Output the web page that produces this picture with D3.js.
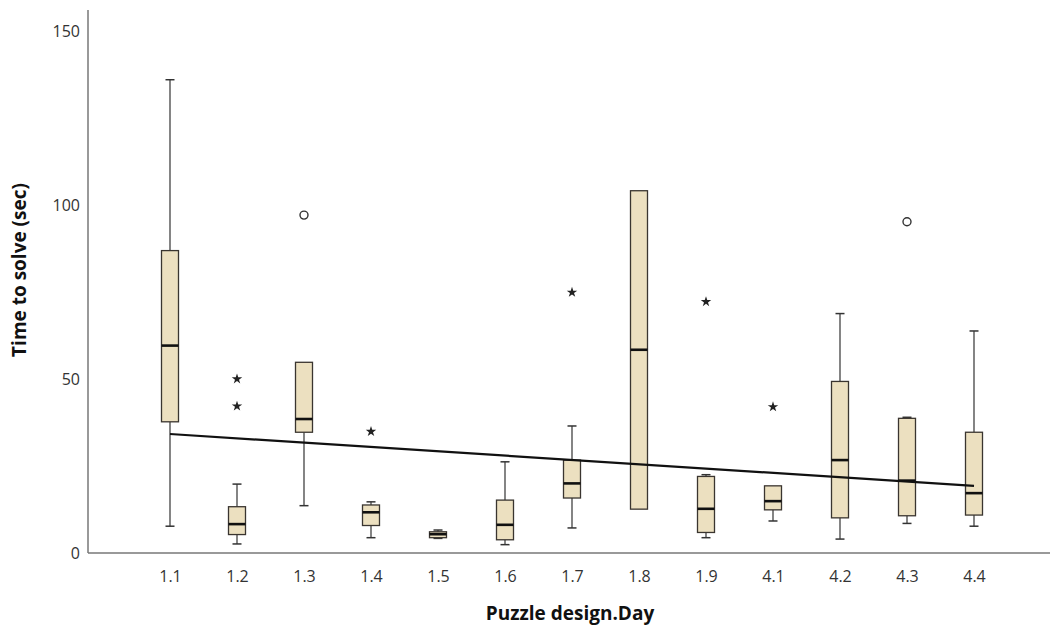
<!DOCTYPE html>
<html lang="en">
<head>
    <meta charset="UTF-8">
    <title>Time to solve by puzzle design and day</title>
    <script src="https://d3js.org/d3.v7.min.js"></script>
    <style>
        body { margin: 0; background: #fff; }
        text { font-family: "Open Sans", "Noto Sans", sans-serif; }
    </style>
</head>
<body>
    <div id="chart"></div>
    <script>
        // values
        var categories  = ["1.1","1.2","1.3","1.4","1.5","1.6","1.7","1.8","1.9","4.1","4.2","4.3","4.4"];
        var whiskerLow  = [7.7, 2.6, 13.6, 4.4, 4.2, 2.4, 7.2, 12.6, 4.4, 9.2, 4.0, 8.5, 7.7];
        var q1          = [37.7, 5.3, 34.7, 7.9, 4.4, 3.8, 15.8, 12.6, 5.9, 12.4, 10.1, 10.7, 10.9];
        var medians     = [59.6, 8.3, 38.5, 11.7, 5.4, 8.1, 20.0, 58.4, 12.7, 14.9, 26.7, 20.8, 17.2];
        var q3          = [86.9, 13.3, 54.8, 13.8, 6.1, 15.2, 26.7, 104.1, 22.0, 19.3, 49.3, 38.7, 34.7];
        var whiskerHigh = [136, 19.8, 54.8, 14.7, 6.6, 26.2, 36.5, 104.1, 22.5, 19.3, 68.8, 39.0, 63.8];
        var outliers    = [["1.3", 97.1], ["4.3", 95.2]];
        var extremes    = [["1.2", 50.0], ["1.2", 42.2], ["1.4", 34.9], ["1.7", 74.9], ["1.9", 72.2], ["4.1", 42.0]];
        var trendCats   = ["1.1", "4.4"];
        var trendValues = [34.2, 19.3];
        var yTicks      = [0, 50, 100, 150];

        var width = 1053, height = 627;
        var svg = d3.select("#chart").append("svg")
            .attr("width", width)
            .attr("height", height);

        var x = d3.scalePoint().domain(categories).range([170, 974]);
        var y = d3.scaleLinear().domain([0, 150]).range([553, 31]);
        var boxW = 17, capW = 9;

        // axes
        var yAxis = d3.axisLeft(y).tickValues(yTicks).tickSize(0).tickPadding(8);
        var gy = svg.append("g").attr("transform", "translate(88,0)").call(yAxis);
        gy.select(".domain").remove();
        gy.selectAll("text").attr("font-size", 16).attr("fill", "#333");

        var xAxis = d3.axisBottom(x).tickSize(0).tickPadding(18);
        var gx = svg.append("g").attr("transform", "translate(0,553)").call(xAxis);
        gx.select(".domain").remove();
        gx.selectAll("text").attr("font-size", 16).attr("fill", "#333");

        svg.append("line").attr("x1", 88).attr("x2", 88).attr("y1", 10).attr("y2", 553)
            .attr("stroke", "#777").attr("stroke-width", 1.5);
        svg.append("line").attr("x1", 88).attr("x2", 1050).attr("y1", 553).attr("y2", 553)
            .attr("stroke", "#777").attr("stroke-width", 1.5);

        // boxes
        var rows = categories.map(function(c, i) {
            return { c: c, lo: whiskerLow[i], q1: q1[i], med: medians[i], q3: q3[i], hi: whiskerHigh[i] };
        });

        var g = svg.append("g");
        var box = g.selectAll(".box").data(rows).enter().append("g").attr("class", "box");

        box.append("line")
            .attr("x1", d => x(d.c)).attr("x2", d => x(d.c))
            .attr("y1", d => y(d.q3)).attr("y2", d => y(d.hi))
            .attr("stroke", "#333").attr("stroke-width", 1.2);
        box.append("line")
            .attr("x1", d => x(d.c)).attr("x2", d => x(d.c))
            .attr("y1", d => y(d.q1)).attr("y2", d => y(d.lo))
            .attr("stroke", "#333").attr("stroke-width", 1.2);
        box.filter(d => d.hi > d.q3).append("line")
            .attr("x1", d => x(d.c) - capW / 2).attr("x2", d => x(d.c) + capW / 2)
            .attr("y1", d => y(d.hi)).attr("y2", d => y(d.hi))
            .attr("stroke", "#333").attr("stroke-width", 1.5);
        box.filter(d => d.lo < d.q1).append("line")
            .attr("x1", d => x(d.c) - capW / 2).attr("x2", d => x(d.c) + capW / 2)
            .attr("y1", d => y(d.lo)).attr("y2", d => y(d.lo))
            .attr("stroke", "#333").attr("stroke-width", 1.5);
        box.append("rect")
            .attr("x", d => x(d.c) - boxW / 2)
            .attr("y", d => y(d.q3))
            .attr("width", boxW)
            .attr("height", d => Math.max(1, y(d.q1) - y(d.q3)))
            .attr("fill", "#ece0c0")
            .attr("stroke", "#3a3530").attr("stroke-width", 1.3);
        box.append("line")
            .attr("x1", d => x(d.c) - boxW / 2).attr("x2", d => x(d.c) + boxW / 2)
            .attr("y1", d => y(d.med)).attr("y2", d => y(d.med))
            .attr("stroke", "#111").attr("stroke-width", 2.6);

        // outliers (circles) and extremes (stars)
        g.selectAll(".outlier").data(outliers).enter().append("circle")
            .attr("class", "outlier")
            .attr("cx", d => x(d[0])).attr("cy", d => y(d[1])).attr("r", 4)
            .attr("fill", "none").attr("stroke", "#333").attr("stroke-width", 1.4);

        var star = d3.symbol().type(d3.symbolStar).size(34);
        g.selectAll(".extreme").data(extremes).enter().append("path")
            .attr("class", "extreme")
            .attr("transform", d => "translate(" + x(d[0]) + "," + y(d[1]) + ")")
            .attr("d", star)
            .attr("fill", "#222");

        // fit line
        var trend = trendCats.map(function(c, i) { return [x(c), y(trendValues[i])]; });
        svg.append("path")
            .attr("d", d3.line()(trend))
            .attr("fill", "none").attr("stroke", "#111").attr("stroke-width", 2.2);

        // titles
        svg.append("text")
            .attr("transform", "translate(26,270) rotate(-90)")
            .attr("text-anchor", "middle")
            .attr("font-size", 19).attr("font-weight", "bold").attr("fill", "#111")
            .text("Time to solve (sec)");
        svg.append("text")
            .attr("x", 570).attr("y", 620)
            .attr("text-anchor", "middle")
            .attr("font-size", 19).attr("font-weight", "bold").attr("fill", "#111")
            .text("Puzzle design.Day");
    </script>
</body>
</html>
